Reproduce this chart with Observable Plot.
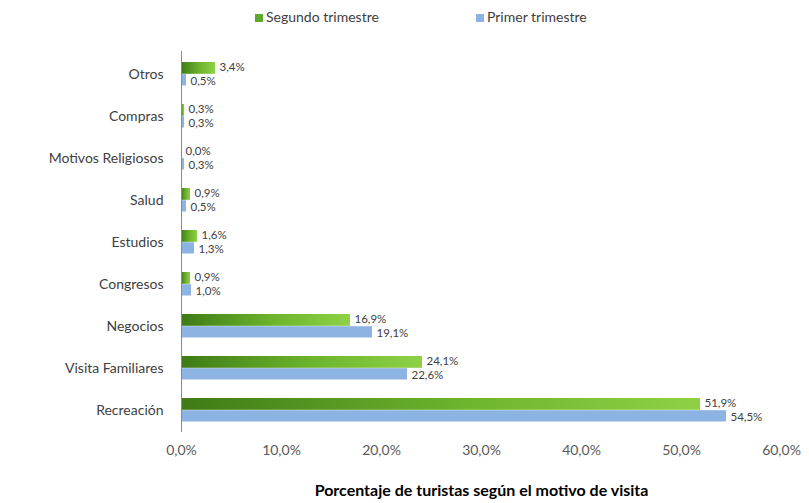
<!DOCTYPE html>
<html><head><meta charset="utf-8">
<script src="https://cdn.jsdelivr.net/npm/d3@7"></script>
<script src="https://cdn.jsdelivr.net/npm/@observablehq/plot@0.6"></script>
<style>
body{margin:0;background:#fff;font-family:Lato,"Open Sans",sans-serif;}
#legend{height:35px;position:relative;font-size:14px;color:#404040;}
#legend span.item{position:absolute;top:8px;white-space:nowrap;}
#legend i{display:inline-block;width:8px;height:8px;margin-right:3px;vertical-align:0px;}
</style></head>
<body>
<div id="legend">
  <span class="item" style="left:255px"><i style="background:#5fa82a"></i>Segundo trimestre</span>
  <span class="item" style="left:476px"><i style="background:#8db3e2"></i>Primer trimestre</span>
</div>
<div id="chart"></div>
<script>
const categories = ["Otros","Compras","Motivos Religiosos","Salud","Estudios","Congresos","Negocios","Visita Familiares","Recreación"];
const segundo = [3.4,0.3,0.0,0.9,1.6,0.9,16.9,24.1,51.9];
const primer  = [0.5,0.3,0.3,0.5,1.3,1.0,19.1,22.6,54.5];
const xTicks = [0,10,20,30,40,50,60];
const xTitle = "Porcentaje de turistas según el motivo de visita";

const dataS = categories.map((c,i)=>({cat:c, v:segundo[i]}));
const dataP = categories.map((c,i)=>({cat:c, v:primer[i]}));
const fmt = v => v.toFixed(1).replace(".", ",") + "%";

const defs = () => {
  const ns = "http://www.w3.org/2000/svg";
  const d = document.createElementNS(ns,"defs");
  d.innerHTML = `<linearGradient id="gGreen" x1="0" y1="0" x2="1" y2="0">
     <stop offset="0" stop-color="#3f7a16"/><stop offset="0.55" stop-color="#6cb52d"/><stop offset="1" stop-color="#8fd146"/></linearGradient>`;
  return d;
};

const W = 809, H = 468;
const plot = Plot.plot({
  width: W, height: H,
  marginLeft: 181, marginRight: 28, marginTop: 16, marginBottom: 71,
  style: {fontFamily: "Lato, 'Open Sans', sans-serif", fontSize: "14px", color: "#404040", background: "#fff"},
  x: {domain: [0,60], ticks: xTicks, tickFormat: fmt, label: null},
  y: {domain: categories, padding: 0, label: null},
  marks: [
    defs,
    Plot.barX(dataS, {x: "v", y: "cat", fill: "url(#gGreen)", insetTop: 9, insetBottom: 21.2}),
    Plot.barX(dataP, {x: "v", y: "cat", fill: "#8db3e2", insetTop: 21.2, insetBottom: 9.5}),
    Plot.text(dataS, {x: "v", y: "cat", text: d => fmt(d.v), dx: 4, dy: -7, textAnchor: "start", fill: "#404040", fontSize: 11.5}),
    Plot.text(dataP, {x: "v", y: "cat", text: d => fmt(d.v), dx: 4, dy: 7, textAnchor: "start", fill: "#404040", fontSize: 11.5}),
    Plot.ruleX([0], {stroke: "#8c8c8c"}),
    Plot.ruleY([0], {stroke: "#8c8c8c", x1: 0, x2: 60}),
    Plot.axisY({tickSize: 0, tickPadding: 18, fontSize: 14, fill: "#404040"}),
    Plot.axisX({ticks: xTicks, tickFormat: fmt, tickSize: 0, tickPadding: 13, fontSize: 14, fill: "#595959"}),
    Plot.text([xTitle], {frameAnchor: "bottom", dy: 63, fontWeight: "bold", fontSize: 16, fill: "#000"})
  ]
});
document.getElementById("chart").appendChild(plot);
</script>
</body></html>
